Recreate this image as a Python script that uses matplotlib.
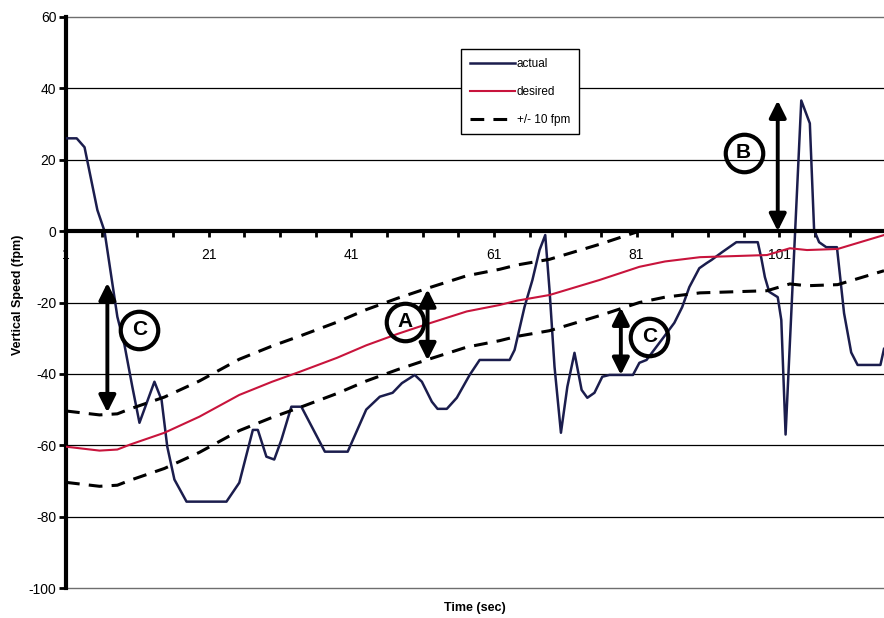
import numpy as np
import matplotlib
import matplotlib.pyplot as plt

matplotlib.use("Agg")
plt.rcParams['font.family'] = ['Liberation Sans', 'DejaVu Sans']
plt.rcParams['axes.unicode_minus'] = False

# vertical speed trace, time (sec) vs fpm
actual_t = [1.0, 2.5, 3.6, 5.4, 6.4, 8.2, 9.2, 10.3, 11.3, 13.4, 14.4, 15.2, 16.2, 17.9,
            23.5, 25.3, 27.2, 27.9, 29.1, 30.2, 31.2, 32.6, 34.0, 37.3, 40.5, 43.1,
            45.0, 46.8, 48.1, 49.9, 50.9, 52.3, 53.1, 54.4, 55.8, 57.6, 59.0, 63.2,
            63.9, 65.3, 66.4, 67.4, 68.2, 68.8, 69.5, 70.4, 71.3, 72.3, 73.3, 74.1,
            75.1, 76.2, 77.2, 80.5, 81.4, 82.4, 84.7, 86.3, 87.4, 88.4, 89.8, 90.8,
            91.5, 93.0, 95.0, 98.0, 98.5, 99.0, 99.6, 100.8, 101.3, 101.9, 104.1,
            105.3, 105.9, 106.6, 107.6, 109.1, 110.1, 111.1, 112.0, 115.2, 115.7]
actual_v = [26.0, 26.0, 23.5, 5.9, 0.0, -24.0, -31.9, -43.6, -53.7, -42.2, -47.3, -60.4,
            -69.6, -75.8, -75.8, -70.5, -55.7, -55.7, -63.2, -64.0, -58.5, -49.2, -49.2,
            -61.8, -61.8, -50.0, -46.4, -45.3, -42.6, -40.3, -42.2, -47.8, -49.8, -49.8,
            -46.7, -40.3, -36.1, -36.1, -33.3, -21.2, -13.7, -5.3, -1.1, -16.5, -38.0,
            -56.5, -43.6, -34.1, -44.5, -46.7, -45.3, -40.8, -40.3, -40.3, -36.9, -36.1,
            -30.0, -25.7, -21.3, -15.7, -10.4, -9.0, -8.1, -5.9, -3.1, -3.1, -7.6,
            -12.9, -17.0, -18.5, -24.9, -57.0, 36.6, 30.2, 0.3, -3.1, -4.5, -4.5,
            -23.0, -34.0, -37.5, -37.5, -33.0]

desired_t = [1.0, 5.7, 8.2, 10.0, 14.8, 19.7, 25.3, 29.9, 33.8, 39.0, 43.1, 47.5, 51.7,
             57.2, 61.8, 64.2, 68.8, 75.8, 81.4, 85.0, 89.9, 99.3, 102.5, 104.9, 109.2,
             115.7]
desired_v = [-60.4, -61.5, -61.2, -59.8, -56.5, -52.0, -45.9, -42.2, -39.4, -35.5, -32.0,
             -28.8, -26.0, -22.5, -20.7, -19.5, -17.9, -13.7, -10.0, -8.5, -7.3, -6.7,
             -4.8, -5.3, -5.0, -1.1]
tolerance = 10

x_labels = [1, 21, 41, 61, 81, 101]
y_ticks = [-100, -80, -60, -40, -20, 0, 20, 40, 60]

# letter, circle (t, v), arrow t, arrow top, arrow bottom
callouts = [('C', 11.3, -27.7, 6.8, -14.5, -50.8),
            ('A', 48.5, -25.4, 51.7, -16.3, -36.2),
            ('B', 96.0, 21.9, 100.8, 36.6, 0.0),
            ('C', 82.8, -29.6, 78.8, -21.4, -40.3)]

desired = np.array(desired_v)
upper = np.minimum(desired + tolerance, 0)
lower = desired - tolerance

fig = plt.figure(figsize=(8.84, 6.18), dpi=100)
ax = fig.add_axes([66 / 884, 1 - 588 / 618, 818 / 884, 571 / 618])

# gridlines (plot area edges are lighter)
for y in y_ticks:
    if y == 0:
        continue
    if y in (60, -100):
        ax.axhline(y, color='#6e6e6e', lw=1.0, zorder=1, clip_on=False)
    else:
        ax.axhline(y, color='black', lw=0.9, zorder=1)

ax.plot(actual_t, actual_v, color='#1b1d4d', lw=1.8, label='actual', zorder=3)
ax.plot(desired_t, desired_v, color='#c8143c', lw=1.5, label='desired', zorder=3)
ax.plot(desired_t, upper, color='black', lw=2.2, ls=(0, (4.5, 3)), label='+/- 10 fpm', zorder=3)
ax.plot(desired_t, lower, color='black', lw=2.2, ls=(0, (4.5, 3)), zorder=3)

for letter, cx, cy, at, a_top, a_bot in callouts:
    ax.annotate('', xy=(at, a_bot), xytext=(at, a_top),
                arrowprops=dict(arrowstyle='<|-|>,head_length=0.6,head_width=0.3',
                                lw=2.8, color='black', shrinkA=0, shrinkB=0,
                                mutation_scale=17), zorder=5)
    ax.plot(cx, cy, 'o', ms=27, mfc='none', mec='black', mew=3, zorder=5)
    ax.text(cx, cy, letter, ha='center', va='center', fontsize=15,
            fontweight='bold', zorder=6)

ax.set_xlim(1, 115.7)
ax.set_ylim(-100, 60)

ax.spines['bottom'].set_position(('data', 0))
ax.spines['bottom'].set_linewidth(3)
ax.spines['bottom'].set_zorder(4)
ax.spines['left'].set_linewidth(3)
ax.spines['right'].set_visible(False)
ax.spines['top'].set_visible(False)

xt = np.arange(1, 116, 5)
ax.set_xticks(xt)
ax.set_xticklabels([str(t) if t in x_labels else '' for t in xt])
ax.tick_params(axis='x', direction='out', length=4, width=2, pad=8, labelsize=10)
ax.set_yticks(y_ticks)
ax.tick_params(axis='y', direction='out', length=5, width=2, pad=2, labelsize=10)

leg = ax.legend(loc='upper left', bbox_to_anchor=(455 / 884, 1 - 43 / 618),
                bbox_transform=fig.transFigure, fontsize=8.5, frameon=True,
                fancybox=False, framealpha=1, edgecolor='black',
                handlelength=3.8, handletextpad=0.2, labelspacing=1.35,
                borderpad=0.75)
leg.get_frame().set_linewidth(1.0)
leg.set_zorder(7)

fig.text(475 / 884, 1 - 608 / 618, 'Time (sec)', ha='center', va='center',
         fontsize=9, fontweight='bold')
fig.text(18 / 884, 1 - 295 / 618, 'Vertical Speed (fpm)', ha='center', va='center',
         rotation=90, fontsize=9, fontweight='bold')

fig.savefig('out.png', dpi=100)
